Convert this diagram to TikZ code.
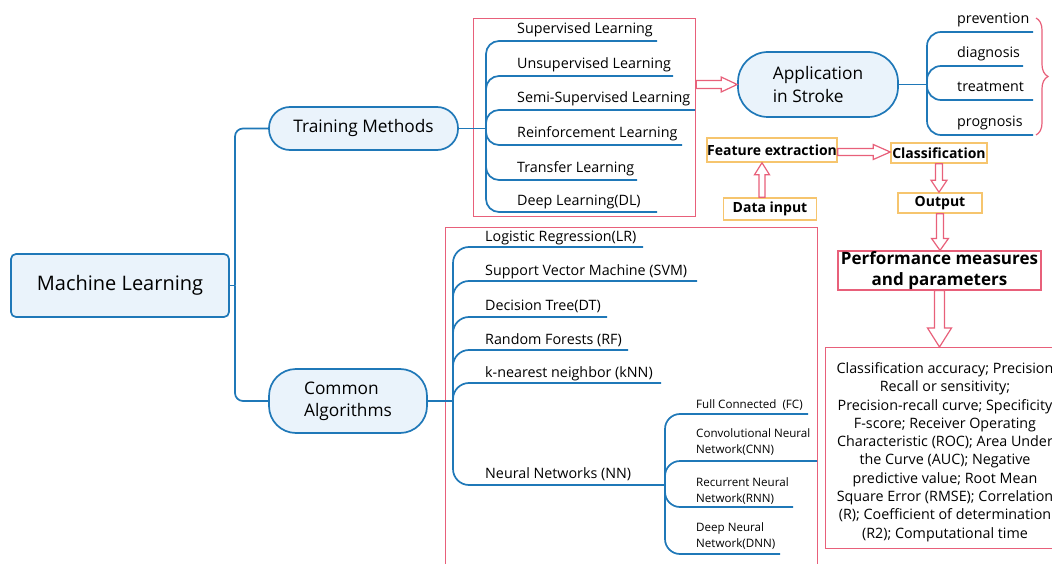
\documentclass[tikz,border=0pt]{standalone}
\usepackage{fontspec}
\setmainfont{Open Sans}
\usetikzlibrary{calc,decorations.pathreplacing}

\definecolor{mmblue}{HTML}{1F78B8}
\definecolor{mmfill}{HTML}{EAF3FB}
\definecolor{mmred}{HTML}{E8607A}
\definecolor{mmorange}{HTML}{F6C56E}

% hollow block arrow: from, to, shaft half width, head half width, head length
\newcommand\hollowarrow[5]{%
  \path[hollow] let \p1=(#1), \p2=(#2),
      \n1={atan2(\y2-\y1,\x2-\x1)}, \n2={veclen(\x2-\x1,\y2-\y1)} in
    [shift={(\p1)}, rotate=\n1]
    (0,-#3) -- ({\n2-#5},-#3) -- ({\n2-#5},-#4) -- (\n2,0)
    -- ({\n2-#5},#4) -- ({\n2-#5},#3) -- (0,#3) -- cycle;}

\tikzset{
  branch/.style={draw=mmblue, line width=1.7pt, rounded corners=13pt},
  topic/.style={draw=mmblue, fill=mmfill, line width=1.7pt, inner sep=2pt},
  leaf/.style={anchor=base west, inner sep=0pt, font=\fontsize{14.3}{16}\selectfont},
  smallleaf/.style={anchor=base west, inner sep=0pt, align=left,
    font=\fontsize{11.6}{15.5}\selectfont},
  redframe/.style={draw=mmred, line width=1.2pt},
  stepbox/.style={draw=mmorange, fill=white, line width=1.5pt, inner sep=0pt,
    font=\bfseries\fontsize{14}{16}\selectfont},
  hollow/.style={draw=mmred, fill=white, line width=1.2pt, line join=miter},
}

\begin{document}
\begin{tikzpicture}[x=1pt,y=-1pt]
\useasboundingbox (0,0) rectangle (1052,564);
\fill[white] (0,0) rectangle (1052,564);

% frames around the method and algorithm lists
\node[redframe, minimum width=222pt, minimum height=198pt, anchor=north west] (tmbox) at (473,18) {};
\node[redframe, minimum width=372pt, minimum height=350pt, anchor=north west] (cabox) at (445,227) {};

% central topics
\node[topic, rounded corners=5pt, minimum width=218pt, minimum height=63pt,
      font=\fontsize{20}{24}\selectfont] (ml) at (120,285.5) {Machine Learning};
\node[topic, rounded corners=21pt, minimum width=189pt, minimum height=43pt,
      font=\fontsize{17.3}{20}\selectfont] (tm) at (363.5,128.5) {Training Methods};
\node[topic, rounded corners=27pt, minimum width=158pt, minimum height=64pt, align=left,
      font=\fontsize{17.3}{22}\selectfont] (ca) at (348,401) {Common\\Algorithms};
\node[topic, rounded corners=30pt, minimum width=160pt, minimum height=65pt, align=left,
      font=\fontsize{17.3}{23}\selectfont] (app) at (818,84.5) {Application\\in Stroke};

% junctions
\coordinate (mlJ) at (235,285.5);
\coordinate (tmJ) at (486,128.5);
\coordinate (caJ) at (453,401);
\coordinate (nnJ) at (665,485);
\coordinate (appJ) at (927,84.5);

\draw[branch] (ml.east) -- (mlJ);
\draw[branch, rounded corners=8pt] (mlJ) |- (tm.west);
\draw[branch, rounded corners=8pt] (mlJ) |- (ca.west);
\draw[branch] (tm.east) -- (tmJ);
\draw[branch] (ca.east) -- (caJ);
\draw[branch] (app.east) -- (appJ);

% training methods
\node[leaf] (sup)  at (517,34)  {Supervised Learning};
\node[leaf] (uns)  at (517,69)  {Unsupervised Learning};
\node[leaf] (semi) at (517,103) {Semi-Supervised Learning};
\node[leaf] (rein) at (517,138) {Reinforcement Learning};
\node[leaf] (tran) at (517,173) {Transfer Learning};
\node[leaf] (dl)   at (517,206) {Deep Learning(DL)};
\coordinate (supE)  at (657,41);
\coordinate (unsE)  at (673,76);
\coordinate (semiE) at (695,110);
\coordinate (reinE) at (682,145);
\coordinate (tranE) at (637,180);
\coordinate (dlE)   at (657,212);
\foreach \e in {supE,unsE,semiE,reinE,tranE,dlE}
  \draw[branch] (tmJ) |- (\e);

% common algorithms
\node[leaf] (lr)  at (485,241) {Logistic Regression(LR)};
\node[leaf] (svm) at (485,275) {Support Vector Machine (SVM)};
\node[leaf] (dt)  at (485,310) {Decision Tree(DT)};
\node[leaf] (rf)  at (485,344) {Random Forests (RF)};
\node[leaf] (knn) at (485,377) {k-nearest neighbor (kNN)};
\node[leaf] (nn)  at (485,478) {Neural Networks (NN)};
\coordinate (lrE)  at (643,247);
\coordinate (svmE) at (697,281);
\coordinate (dtE)  at (607,317);
\coordinate (rfE)  at (628,350);
\coordinate (knnE) at (661,383);
\foreach \e in {lrE,svmE,dtE,rfE,knnE,nnJ}
  \draw[branch, rounded corners=16pt] (caJ) |- (\e);

% neural network family (base anchor sits on the last line)
\node[smallleaf] (fc)  at (696,408) {Full Connected~~(FC)};
\node[smallleaf] (cnn) at (696,453) {Convolutional Neural\\Network(CNN)};
\node[smallleaf] (rnn) at (696,502) {Recurrent Neural\\Network(RNN)};
\node[smallleaf] (dnn) at (696,547) {Deep Neural\\Network(DNN)};
\coordinate (fcE)  at (808,414);
\coordinate (cnnE) at (817,461);
\coordinate (rnnE) at (793,507);
\coordinate (dnnE) at (780,554);
\foreach \e in {fcE,cnnE,rnnE,dnnE}
  \draw[branch, rounded corners=15pt] (nnJ) |- (\e);

% stroke applications
\node[leaf] (prev)  at (957,23.5) {prevention};
\node[leaf] (diag)  at (957,57.5) {diagnosis};
\node[leaf] (treat) at (957,92)   {treatment};
\node[leaf] (prog)  at (957,126.5){prognosis};
\coordinate (prevE)  at (1033,32);
\coordinate (diagE)  at (1023,66);
\coordinate (treatE) at (1033,100);
\coordinate (progE)  at (1033,135);
\foreach \e in {prevE,diagE,treatE,progE}
  \draw[branch, rounded corners=14pt] (appJ) |- (\e);
\draw[mmred, line width=1.2pt, decorate, decoration={brace, amplitude=12pt}]
  (1036,18) -- (1036,135);

% processing pipeline
\node[stepbox, minimum width=130pt, minimum height=24pt] (feat)  at (772,150) {Feature extraction};
\node[stepbox, minimum width=96pt,  minimum height=20pt] (class) at (939,153) {Classification};
\node[stepbox, minimum width=93pt,  minimum height=22pt] (data)  at (770,209) {Data input};
\node[stepbox, minimum width=84pt,  minimum height=20pt] (out)   at (940,203) {Output};
\node[draw=mmred, line width=1.2pt, minimum width=203pt, minimum height=39pt, inner sep=0pt,
      align=center, font=\bfseries\fontsize{17}{21}\selectfont] (perf) at (939.5,270.5)
      {Performance measures\\and parameters};
\node[redframe, minimum width=240pt, minimum height=201pt, anchor=north west] (big) at (825,347) {};
\node[align=center, inner sep=0pt, font=\fontsize{14.3}{18.3}\selectfont] (bigtxt) at (945,452)
  {Classification accuracy; Precision\\
   Recall or sensitivity;\\
   Precision-recall curve; Specificity\\
   F-score; Receiver Operating\\
   Characteristic (ROC); Area Under\\
   the Curve (AUC); Negative\\
   predictive value; Root Mean\\
   Square Error (RMSE); Correlation\\
   (R); Coefficient of determination\\
   (R2); Computational time};

% block arrows
\hollowarrow{tmbox.east |- app.west}{app.west}{4}{7.5}{16}
\hollowarrow{[yshift=-2pt]feat.east}{[yshift=-2pt]feat.east -| class.west}{3.5}{7.5}{17}
\hollowarrow{[xshift=-8pt]data.north}{[xshift=-8pt]data.north |- feat.south}{3}{7.5}{12}
\hollowarrow{class.south}{class.south |- out.north}{3.5}{8}{12}
\hollowarrow{out.south}{out.south |- perf.north}{3.5}{8.5}{12}
\hollowarrow{perf.south}{perf.south |- big.north}{5}{12}{19}
\end{tikzpicture}
\end{document}
